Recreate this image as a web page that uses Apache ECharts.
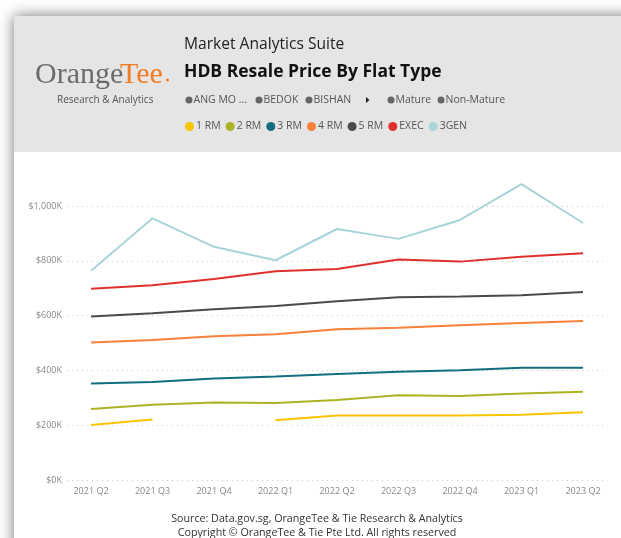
<!DOCTYPE html>
<html><head><meta charset="utf-8">
<script src="https://cdn.jsdelivr.net/npm/echarts@6/dist/echarts.min.js"></script>
<style>html,body{margin:0;padding:0;background:#fff;}#c{width:621px;height:538px;}</style>
</head><body><div id="c"></div>
<script>
const categories = ['2021 Q2','2021 Q3','2021 Q4','2022 Q1','2022 Q2','2022 Q3','2022 Q4','2023 Q1','2023 Q2'];
const rm1  = [201, 221, null, 218, 235, 235, 235, 238, 247];
const rm2  = [259, 275, 283, 281, 292, 309, 307, 316, 322];
const rm3  = [352, 358, 370, 378, 387, 395, 401, 410, 410];
const rm4  = [502, 511, 525, 532, 550, 556, 565, 573, 580];
const rm5  = [597, 609, 623, 635, 652, 667, 670, 674, 686];
const exec = [698, 711, 734, 762, 770, 805, 797, 815, 828];
const gen3 = [764, 955, 851, 802, 916, 880, 949, 1080, 938];
const seriesNames = ['1 RM','2 RM','3 RM','4 RM','5 RM','EXEC','3GEN'];
const seriesData = [rm1, rm2, rm3, rm4, rm5, exec, gen3];
const colors = ['#F9C500','#ABB325','#136E80','#F5813A','#4A4A4A','#E0302D','#A8D4D9'];
const filterLabels = ['ANG MO ...','BEDOK','BISHAN','Mature','Non-Mature'];
const filterDotX = [189, 259, 309, 391, 441];

const chart = echarts.init(document.getElementById('c'), null, {renderer:'canvas'});
const FONT = '"Open Sans", "Noto Sans", sans-serif';
const SERIF = '"Liberation Serif", "DejaVu Serif", serif';

const graphics = [
  {type:'rect', shape:{x:14,y:16,width:640,height:560}, style:{fill:'#ffffff', shadowBlur:14, shadowColor:'rgba(0,0,0,0.55)'}, z:-10},
  {type:'rect', shape:{x:14,y:16,width:640,height:136}, style:{fill:'#e5e5e5'}, z:-9},
  {type:'text', x:35, y:90, style:{text:'Orange', font:'30px ' + SERIF, fill:'#6b6b6b', textVerticalAlign:'bottom'}, z:1},
  {type:'text', x:120, y:90, style:{text:'Tee', font:'30px ' + SERIF, fill:'#F27B21', textVerticalAlign:'bottom'}, z:1},
  {type:'circle', shape:{cx:167.5, cy:80, r:1.5}, style:{fill:'#F27B21'}, z:1},
  {type:'text', x:57, y:100, style:{text:'Research & Analytics', font:'10px ' + FONT, fill:'#555', textVerticalAlign:'middle'}, z:1},
  {type:'text', x:184, y:45, style:{text:'Market Analytics Suite', font:'15.6px ' + FONT, fill:'#222', textVerticalAlign:'middle'}, z:1},
  {type:'text', x:184, y:72, style:{text:'HDB Resale Price By Flat Type', font:'bold 17.5px ' + FONT, fill:'#111', textVerticalAlign:'middle'}, z:1},
  {type:'text', x:317, y:519, style:{text:'Source: Data.gov.sg, OrangeTee & Tie Research & Analytics', font:'10.7px ' + FONT, fill:'#333', textAlign:'center', textVerticalAlign:'middle'}, z:1},
  {type:'text', x:317, y:533, style:{text:'Copyright © OrangeTee & Tie Pte Ltd. All rights reserved', font:'10.7px ' + FONT, fill:'#333', textAlign:'center', textVerticalAlign:'middle'}, z:1},
  {type:'polygon', shape:{points:[[366,97],[369.5,100],[366,103]]}, style:{fill:'#222'}, z:1}
];
const rowY = 100;
filterLabels.forEach((f, i) => {
  graphics.push({type:'circle', shape:{cx:filterDotX[i], cy:rowY, r:3.5}, style:{fill:'#666'}, z:1});
  graphics.push({type:'text', x:filterDotX[i] + 4.5, y:rowY, style:{text:f, font:'10.5px ' + FONT, fill:'#555', textVerticalAlign:'middle'}, z:1});
});

const series = seriesNames.map((n, i) => ({
  name: n, type: 'line', data: seriesData[i], xAxisIndex: 0, yAxisIndex: 0,
  showSymbol: false, symbol: 'none', clip: false, connectNulls: false,
  lineStyle: {width: 2, color: colors[i]}, itemStyle: {color: colors[i]}
}));
series.push({type:'line', data:[], xAxisIndex:1, yAxisIndex:1, silent:true});

chart.setOption({
  animation: false,
  backgroundColor: 'transparent',
  color: colors,
  textStyle: {fontFamily: FONT},
  legend: {
    data: seriesNames, left: 185, top: 121, padding: 0, icon: 'circle', itemWidth: 9, itemHeight: 9, itemGap: 5,
    textStyle: {fontSize: 10.5, color: '#555', padding: [0,0,0,-3]}, selectedMode: false
  },
  grid: [
    {left: 91, right: 38, top: 206, bottom: 58},
    {left: 67, right: 14, top: 206, bottom: 58}
  ],
  xAxis: [
    {type: 'category', data: categories, boundaryGap: false, gridIndex: 0,
     axisLine: {show: false}, axisTick: {show: false},
     axisLabel: {fontSize: 9, color: '#888', margin: 7, interval: 0}},
    {type: 'category', data: ['a'], gridIndex: 1, show: false}
  ],
  yAxis: [
    {type: 'value', min: 0, max: 1000, interval: 200, gridIndex: 0, show: false, splitLine: {show: false}},
    {type: 'value', min: 0, max: 1000, interval: 200, gridIndex: 1,
     axisLine: {show: false}, axisTick: {show: false},
     axisLabel: {fontSize: 9, color: '#888', margin: 5,
       formatter: v => '$' + (v >= 1000 ? v.toLocaleString('en-US') : v) + 'K'},
     splitLine: {lineStyle: {type: [1, 4], color: '#c8c8c8', width: 1}}}
  ],
  graphic: graphics,
  series: series
});
</script></body></html>
